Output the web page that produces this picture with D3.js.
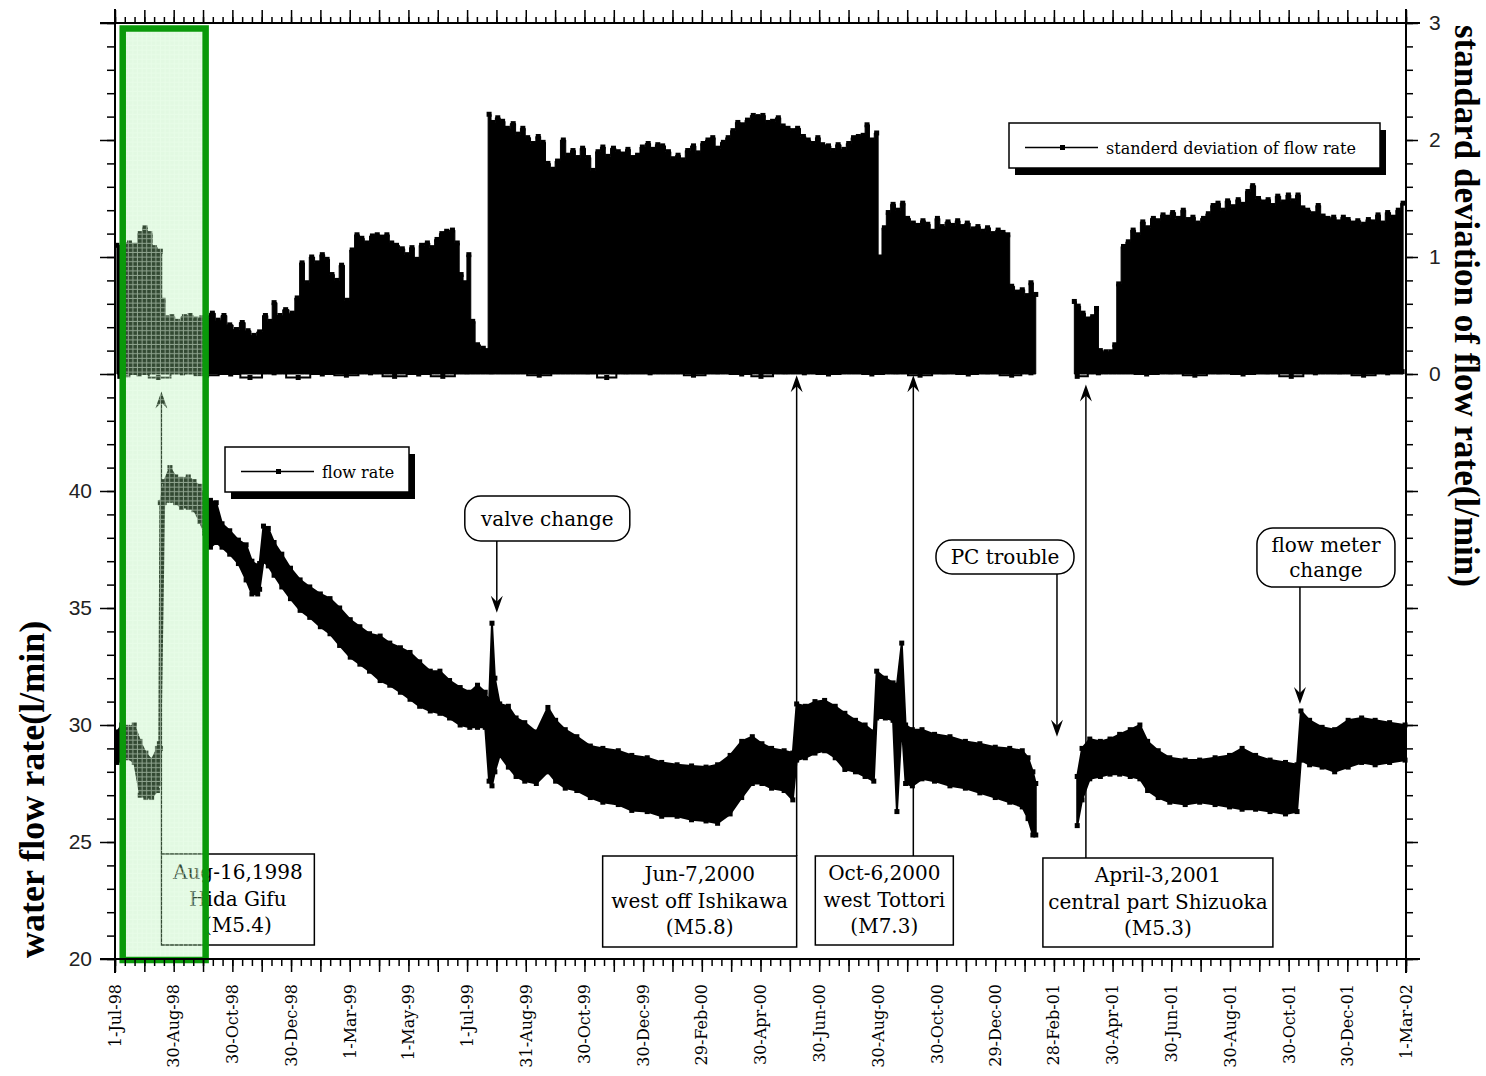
<!DOCTYPE html>
<html>
<head>
<meta charset="utf-8">
<script src="https://cdn.jsdelivr.net/npm/d3@7"></script>
<style>
  body { margin: 0; background: #fff; }
  svg { display: block; }
</style>
</head>
<body>
<svg id="chart" width="1486" height="1076"></svg>
<script>
// ---- observation window -------------------------------------------------
const startDate = new Date(1998, 6, 1);   // 1-Jul-98
const endDate = new Date(2002, 2, 1);     // 1-Mar-02

// ---- flow rate (l/min): daily band low / high, days counted from 1-Jul-98
const flowDay = [
  2, 7, 13, 20, 26, 32, 38, 44, 46, 47,
  51, 57, 63, 69, 76, 82, 88, 93, 99, 105,
  111, 119, 128, 136, 142, 148, 150, 154, 159, 165,
  173, 182, 192, 202, 213, 223, 233, 244, 254, 264,
  275, 285, 296, 306, 316, 327, 337, 347, 358, 368,
  376, 384, 388, 391, 394, 399, 408, 416, 425, 437,
  449, 457, 467, 479, 493, 506, 522, 536, 552, 567,
  583, 598, 613, 625, 638, 650, 661, 671, 681, 694,
  703, 707, 716, 726, 736, 747, 757, 768, 778, 787,
  790, 799, 807, 811, 816, 820, 827, 837, 850, 866,
  882, 897, 913, 928, 941, 947, 952, 955, 975, 998,
  1003, 1011, 1022, 1032, 1042, 1053, 1063, 1071, 1082, 1094,
  1110, 1125, 1141, 1156, 1169, 1183, 1198, 1214, 1226, 1230,
  1239, 1252, 1265, 1279, 1293, 1307, 1322, 1338
];
const flowLow = [
  28.4, 28.5, 28.6, 28.4, 27.0, 26.9, 26.9, 27.2, 27.5, 29.0,
  39.5, 39.6, 39.5, 39.3, 39.3, 39.2, 38.7, 38.2, 37.6, 37.8,
  37.6, 37.3, 36.9, 36.2, 35.6, 35.6, 35.8, 37.0, 36.8, 36.4,
  35.9, 35.4, 34.9, 34.6, 34.2, 33.9, 33.4, 32.9, 32.6, 32.3,
  31.9, 31.7, 31.4, 31.1, 30.8, 30.6, 30.5, 30.3, 30.0, 29.9,
  29.9, 29.9, 27.6, 27.4, 28.0, 28.7, 28.2, 27.8, 27.6, 27.5,
  28.0, 27.6, 27.3, 27.2, 26.9, 26.7, 26.6, 26.35, 26.3, 26.1,
  26.1, 25.95, 25.9, 25.8, 26.2, 26.9, 27.5, 27.5, 27.3, 27.2,
  26.8, 28.5, 28.6, 28.8, 28.9, 28.6, 28.1, 28.0, 27.8, 27.6,
  30.3, 30.3, 30.2, 26.3, 30.0, 27.5, 27.4, 27.7, 27.6, 27.4,
  27.3, 27.1, 26.9, 26.7, 26.5, 26.0, 25.3, 25.3, null, 25.7,
  26.8, 27.7, 27.8, 27.9, 27.9, 27.8, 27.7, 27.2, 26.9, 26.7,
  26.6, 26.7, 26.6, 26.5, 26.4, 26.4, 26.3, 26.2, 26.3, 28.5,
  28.3, 28.2, 28.0, 28.2, 28.4, 28.3, 28.4, 28.5
];
const flowHigh = [
  29.7, 30.0, 29.9, 30.0, 29.3, 28.8, 28.5, 29.0, 29.2, 39.5,
  40.4, 41.0, 40.6, 40.5, 40.6, 40.4, 40.2, 39.7, 39.6, 39.5,
  38.6, 38.3, 37.9, 37.7, 37.0, 36.8, 36.9, 38.5, 38.4, 37.8,
  37.3, 36.7, 36.2, 35.9, 35.6, 35.4, 35.0, 34.5, 34.2, 33.9,
  33.8, 33.5, 33.3, 33.1, 32.7, 32.3, 32.3, 31.9, 31.6, 31.4,
  31.7, 31.4, 31.0, 34.35, 32.0, 30.9, 30.8, 30.3, 30.1, 29.7,
  30.75, 30.2, 29.8, 29.5, 29.1, 29.0, 28.9, 28.7, 28.6, 28.4,
  28.3, 28.25, 28.2, 28.3, 28.7, 29.3, 29.5, 29.2, 29.0, 28.9,
  28.8, 30.9, 30.8, 31.0, 31.05, 30.8, 30.5, 30.2, 30.0, 29.7,
  32.3, 32.0, 31.8, 31.7, 33.5, 30.0, 29.8, 29.8, 29.6, 29.5,
  29.3, 29.2, 29.05, 29.0, 28.9, 28.6, 28.0, 27.5, null, 27.8,
  29.0, 29.4, 29.3, 29.4, 29.6, 29.8, 30.0, 29.3, 28.9, 28.6,
  28.5, 28.5, 28.6, 28.7, 29.0, 28.7, 28.5, 28.4, 28.3, 30.6,
  30.2, 29.9, 29.8, 30.2, 30.3, 30.2, 30.1, 30.0
];

// ---- standard deviation of flow rate (l/min): daily maxima ----------------
const stdDay = [
  2, 8, 15, 21, 26, 31, 36, 41, 47, 50,
  54, 59, 65, 72, 78, 84, 90, 95, 101, 107,
  113, 119, 126, 132, 138, 144, 150, 156, 161, 165,
  171, 177, 184, 189, 194, 199, 204, 210, 215, 220,
  225, 230, 235, 241, 246, 251, 256, 261, 267, 272,
  277, 282, 287, 292, 298, 303, 308, 313, 318, 324,
  329, 334, 339, 344, 350, 355, 359, 363, 367, 371,
  376, 382, 386, 388, 392, 397, 402, 407, 413, 418,
  423, 428, 434, 439, 444, 449, 454, 459, 465, 470,
  475, 480, 485, 491, 496, 501, 506, 511, 517, 522,
  527, 532, 537, 542, 547, 553, 558, 563, 568, 574,
  579, 584, 589, 594, 600, 605, 610, 615, 620, 625,
  631, 636, 641, 646, 651, 656, 662, 667, 672, 677,
  682, 688, 693, 698, 703, 708, 714, 719, 724, 729,
  734, 740, 745, 750, 756, 761, 766, 771, 776, 780,
  785, 790, 793, 798, 802, 807, 812, 817, 822, 828,
  833, 838, 843, 848, 853, 858, 864, 869, 874, 879,
  884, 890, 895, 900, 905, 911, 916, 921, 926, 930,
  936, 941, 946, 950, 955, 975, 995, 999, 1004, 1009,
  1014, 1018, 1022, 1028, 1033, 1037, 1041, 1046, 1051, 1056,
  1061, 1066, 1071, 1077, 1082, 1087, 1092, 1097, 1103, 1108,
  1113, 1118, 1123, 1129, 1134, 1139, 1144, 1149, 1154, 1160,
  1165, 1170, 1175, 1180, 1186, 1191, 1196, 1201, 1206, 1212,
  1217, 1222, 1227, 1232, 1237, 1243, 1248, 1253, 1258, 1264,
  1269, 1274, 1279, 1284, 1289, 1295, 1300, 1305, 1310, 1315,
  1320, 1326, 1331, 1336
];
const stdHigh = [
  1.10, 1.10, 1.12, 1.10, 1.20, 1.25, 1.20, 1.08, 1.05, 0.63,
  0.48, 0.49, 0.45, 0.49, 0.50, 0.47, 0.48, 0.48, 0.52, 0.46,
  0.50, 0.42, 0.38, 0.44, 0.37, 0.33, 0.36, 0.50, 0.45, 0.61,
  0.50, 0.55, 0.52, 0.65, 0.95, 0.78, 1.00, 0.95, 1.02, 0.98,
  0.85, 0.80, 0.93, 0.63, 1.06, 1.19, 1.16, 1.12, 1.18, 1.19,
  1.17, 1.19, 1.12, 1.10, 1.07, 1.02, 1.08, 0.98, 1.10, 1.12,
  1.08, 1.15, 1.20, 1.22, 1.23, 1.12, 0.85, 0.78, 1.02, 0.45,
  0.25, 0.22, 0.20, 2.22, 2.15, 2.19, 2.16, 2.10, 2.14, 2.05,
  2.10, 2.02, 1.97, 2.03, 1.98, 1.80, 1.75, 1.82, 2.00, 1.87,
  1.91, 1.85, 1.93, 1.85, 1.74, 1.90, 1.94, 1.86, 1.93, 1.90,
  1.88, 1.92, 1.85, 1.87, 1.94, 1.97, 1.92, 1.96, 1.95, 1.90,
  1.84, 1.87, 1.83, 1.91, 1.95, 1.89, 1.97, 2.00, 2.02, 1.93,
  1.98, 2.02, 2.08, 2.15, 2.13, 2.17, 2.21, 2.20, 2.21, 2.15,
  2.16, 2.19, 2.12, 2.10, 2.08, 2.10, 2.03, 2.00, 1.97, 2.02,
  1.96, 1.95, 1.91, 1.96, 1.92, 1.97, 2.02, 2.03, 2.04, 2.13,
  2.00, 2.06, 1.00, 1.25, 1.38, 1.45, 1.40, 1.46, 1.33, 1.29,
  1.27, 1.31, 1.28, 1.22, 1.33, 1.26, 1.30, 1.27, 1.31, 1.26,
  1.29, 1.24, 1.26, 1.22, 1.25, 1.20, 1.23, 1.21, 1.19, 0.75,
  0.70, 0.72, 0.67, 0.78, 0.68, null, 0.62, 0.58, 0.52, 0.47,
  0.49, 0.56, 0.20, 0.19, 0.19, 0.25, 0.77, 1.09, 1.13, 1.23,
  1.19, 1.30, 1.25, 1.33, 1.31, 1.36, 1.34, 1.38, 1.33, 1.40,
  1.32, 1.34, 1.29, 1.33, 1.37, 1.44, 1.46, 1.40, 1.48, 1.43,
  1.49, 1.45, 1.56, 1.61, 1.50, 1.47, 1.49, 1.44, 1.52, 1.47,
  1.53, 1.48, 1.53, 1.42, 1.40, 1.37, 1.44, 1.35, 1.33, 1.34,
  1.30, 1.34, 1.32, 1.29, 1.31, 1.28, 1.32, 1.30, 1.36, 1.29,
  1.38, 1.34, 1.40, 1.46
];
// daily minima of the standard deviation (sampled where the trace dips)
const stdLowDay = [
  5, 25, 45, 70, 95, 120, 140, 165, 190, 215,
  240, 265, 290, 315, 340, 365, 390, 415, 440, 465,
  490, 510, 530, 555, 580, 600, 625, 650, 670, 695,
  715, 740, 765, 785, 810, 835, 860, 885, 905, 930,
  950, 975, 998, 1020, 1045, 1070, 1095, 1120, 1145, 1170,
  1195, 1220, 1245, 1270, 1295, 1320, 1335
];
const stdLow = [
  -0.02, 0.00, -0.03, 0.01, -0.01, 0.00, -0.03, 0.01, -0.03, 0.00,
  -0.01, 0.01, -0.02, 0.00, -0.02, 0.02, 0.02, 0.03, -0.01, 0.03,
  0.02, -0.03, 0.02, 0.01, 0.03, -0.01, 0.02, 0.00, -0.02, 0.02,
  0.01, 0.00, 0.03, 0.00, 0.02, -0.01, 0.02, 0.00, 0.02, -0.01,
  0.01, null, -0.02, 0.01, 0.03, 0.00, 0.02, -0.01, 0.02, 0.00,
  0.02, -0.02, 0.01, 0.02, -0.01, 0.01, 0.02
];

// ---- axis labelling ------------------------------------------------------
const dateTickLabels = [
  "1-Jul-98", "30-Aug-98", "30-Oct-98", "30-Dec-98", "1-Mar-99", "1-May-99",
  "1-Jul-99", "31-Aug-99", "30-Oct-99", "30-Dec-99", "29-Feb-00", "30-Apr-00",
  "30-Jun-00", "30-Aug-00", "30-Oct-00", "29-Dec-00", "28-Feb-01", "30-Apr-01",
  "30-Jun-01", "30-Aug-01", "30-Oct-01", "30-Dec-01", "1-Mar-02"
];
const dateTickDates = [
  "1998-07-01", "1998-08-30", "1998-10-30", "1998-12-30", "1999-03-01", "1999-05-01",
  "1999-07-01", "1999-08-31", "1999-10-30", "1999-12-30", "2000-02-29", "2000-04-30",
  "2000-06-30", "2000-08-30", "2000-10-30", "2000-12-29", "2001-02-28", "2001-04-30",
  "2001-06-30", "2001-08-30", "2001-10-30", "2001-12-30", "2002-03-01"
];
const flowTickLabels = [20, 25, 30, 35, 40];
const stdTickLabels = [0, 1, 2, 3];

// ---- annotations ---------------------------------------------------------
const quakeDates = ["1998-08-16", "2000-06-07", "2000-10-06", "2001-04-03"];
const quakeText = [
  ["Aug-16,1998", "Hida Gifu", "(M5.4)"],
  ["Jun-7,2000", "west off Ishikawa", "(M5.8)"],
  ["Oct-6,2000", "west Tottori", "(M7.3)"],
  ["April-3,2001", "central part Shizuoka", "(M5.3)"]
];
const quakeArrowTip = [-0.15, -0.01, -0.01, -0.09];      // on the std scale
const noteDates = ["1999-08-01", "2001-03-04", "2001-11-11"];
const noteText = [["valve change"], ["PC trouble"], ["flow meter", "change"]];
const noteArrowTip = [34.8, 29.5, 30.9];                 // on the flow scale
const highlightRange = ["1998-07-09", "1998-10-03"];

// ---- layout --------------------------------------------------------------
const plot = { left: 115, right: 1406, top: 23, bottom: 959 };
const serif = "'DejaVu Serif', serif";
const titleFont = "'Liberation Serif', 'Times New Roman', serif";
const svg = d3.select("#chart");
const parse = d3.timeParse("%Y-%m-%d");
const onDay = d => d3.timeDay.offset(startDate, d);

const x = d3.scaleTime().domain([startDate, endDate]).range([plot.left, plot.right]);
const yFlow = d3.scaleLinear().domain([20, 60]).range([plot.bottom, plot.top]);
const yStd = d3.scaleLinear().domain([-5, 3]).range([plot.bottom, plot.top]);

const flowData = flowDay.map((d, i) => ({ date: onDay(d), lo: flowLow[i], hi: flowHigh[i] }));
const stdData = stdDay.map((d, i) => ({ date: onDay(d), hi: stdHigh[i] }));
const stdLowData = stdLowDay.map((d, i) => ({ date: onDay(d), v: stdLow[i] }));

const defs = svg.append("defs");
const pat = defs.append("pattern").attr("id", "mint")
  .attr("width", 4.6).attr("height", 4.6).attr("patternUnits", "userSpaceOnUse");
pat.append("rect").attr("width", 4.6).attr("height", 4.6)
  .attr("fill", "rgb(160,235,160)").attr("fill-opacity", 0.31);
pat.append("rect").attr("x", 3.6).attr("width", 1).attr("height", 4.6)
  .attr("fill", "rgb(235,255,235)").attr("fill-opacity", 0.5);
pat.append("rect").attr("y", 3.6).attr("width", 3.6).attr("height", 1)
  .attr("fill", "rgb(235,255,235)").attr("fill-opacity", 0.5);

// ---- data traces ---------------------------------------------------------
const marks = svg.append("g");
const sq = 5;

// standard deviation: filled from zero up to the daily maxima
marks.append("path").datum(stdData)
  .attr("d", d3.area().defined(d => d.hi != null)
    .x(d => x(d.date)).y0(yStd(0)).y1(d => yStd(d.hi)).curve(d3.curveStep))
  .attr("fill", "#000").attr("stroke", "#000").attr("stroke-width", 1);
marks.append("g").selectAll("rect").data(stdData.filter(d => d.hi != null)).join("rect")
  .attr("x", d => x(d.date) - sq / 2).attr("y", d => yStd(d.hi) - sq / 2)
  .attr("width", sq).attr("height", sq).attr("fill", "#000");
marks.append("path").datum(stdLowData)
  .attr("d", d3.line().defined(d => d.v != null).x(d => x(d.date)).y(d => yStd(d.v)).curve(d3.curveStep))
  .attr("fill", "none").attr("stroke", "#000").attr("stroke-width", 2);
marks.append("g").selectAll("rect").data(stdLowData.filter(d => d.v != null)).join("rect")
  .attr("x", d => x(d.date) - sq / 2).attr("y", d => yStd(d.v) - sq / 2)
  .attr("width", sq).attr("height", sq).attr("fill", "#000");

// flow rate band
marks.append("path").datum(flowData)
  .attr("d", d3.area().defined(d => d.lo != null)
    .x(d => x(d.date)).y0(d => yFlow(d.lo)).y1(d => yFlow(d.hi)))
  .attr("fill", "#000").attr("stroke", "#000").attr("stroke-width", 2);
const flowPts = flowData.filter(d => d.lo != null);
marks.append("g").selectAll("rect").data(flowPts.flatMap(d => [
    { date: d.date, v: d.lo }, { date: d.date, v: d.hi }])).join("rect")
  .attr("x", d => x(d.date) - sq / 2).attr("y", d => yFlow(d.v) - sq / 2)
  .attr("width", sq).attr("height", sq).attr("fill", "#000");

// ---- arrowheads ----------------------------------------------------------
function arrowHead(g, ax, ay, up) {
  const s = up ? 1 : -1;
  g.append("path")
    .attr("d", `M${ax},${ay} L${ax - 6},${ay + s * 17} L${ax},${ay + s * 11} L${ax + 6},${ay + s * 17} Z`)
    .attr("fill", "#000");
}

// ---- earthquake boxes ----------------------------------------------------
const quakeBox = [
  { dx: 2, w: 153, top: 854, h: 91 },
  { dx: -194, w: 194, top: 856, h: 91 },
  { dx: -98, w: 138, top: 856, h: 89 },
  { dx: -43, w: 230, top: 858, h: 89 }
];
const ann = svg.append("g");
quakeDates.forEach((ds, i) => {
  const lx = x(parse(ds)) + (i === 0 ? 2 : 0);
  const b = quakeBox[i];
  const bx = x(parse(ds)) + b.dx;
  const tipY = yStd(quakeArrowTip[i]);
  ann.append("line").attr("x1", lx).attr("x2", lx).attr("y1", b.top).attr("y2", tipY + 4)
    .attr("stroke", "#000").attr("stroke-width", 1.5);
  arrowHead(ann, lx, tipY, true);
  ann.append("rect").attr("x", bx).attr("y", b.top).attr("width", b.w).attr("height", b.h)
    .attr("fill", "#fff").attr("stroke", "#000").attr("stroke-width", 1.5);
  const cx = bx + b.w / 2, cy = b.top + b.h / 2;
  quakeText[i].forEach((t, j) => {
    ann.append("text").attr("x", cx).attr("y", cy + (j - 1) * 26.5 + 6)
      .attr("text-anchor", "middle").attr("font-family", serif).attr("font-size", 20)
      .text(t);
  });
});

// ---- rounded callouts ----------------------------------------------------
const noteBox = [
  { dx: -32, w: 165, top: 496, h: 45 },
  { dx: -121, w: 138, top: 540, h: 34 },
  { dx: -43, w: 138, top: 528, h: 59 }
];
noteDates.forEach((ds, i) => {
  const ax = x(parse(ds));
  const b = noteBox[i];
  const bx = ax + b.dx;
  const tipY = yFlow(noteArrowTip[i]);
  ann.append("line").attr("x1", ax).attr("x2", ax).attr("y1", b.top + b.h).attr("y2", tipY - 4)
    .attr("stroke", "#000").attr("stroke-width", 1.5);
  arrowHead(ann, ax, tipY, false);
  ann.append("rect").attr("x", bx).attr("y", b.top).attr("width", b.w).attr("height", b.h)
    .attr("rx", 16).attr("ry", 16)
    .attr("fill", "#fff").attr("stroke", "#000").attr("stroke-width", 1.5);
  const cx = bx + b.w / 2, cy = b.top + b.h / 2;
  const n = noteText[i].length;
  noteText[i].forEach((t, j) => {
    ann.append("text").attr("x", cx).attr("y", cy + (j - (n - 1) / 2) * 25 + 7)
      .attr("text-anchor", "middle").attr("font-family", serif).attr("font-size", 20)
      .text(t);
  });
});

// ---- legends -------------------------------------------------------------
function legendBox(x0, y0, w, h, label) {
  const g = svg.append("g");
  g.append("rect").attr("x", x0 + 6).attr("y", y0 + 7).attr("width", w).attr("height", h).attr("fill", "#000");
  g.append("rect").attr("x", x0).attr("y", y0).attr("width", w).attr("height", h)
    .attr("fill", "#fff").attr("stroke", "#000").attr("stroke-width", 1.5);
  const ly = y0 + h / 2 + 2;
  g.append("line").attr("x1", x0 + 16).attr("x2", x0 + 89).attr("y1", ly).attr("y2", ly)
    .attr("stroke", "#000").attr("stroke-width", 1.5);
  g.append("rect").attr("x", x0 + 51).attr("y", ly - 2.5).attr("width", 5).attr("height", 5).attr("fill", "#000");
  g.append("text").attr("x", x0 + 97).attr("y", ly + 6).attr("font-family", serif)
    .attr("font-size", 16).text(label);
}
legendBox(1009, 123, 371, 45, "standerd deviation of flow rate");
legendBox(225, 447, 184, 45, "flow rate");

// ---- highlighted interval ------------------------------------------------
const hx0 = x(parse(highlightRange[0])), hx1 = x(parse(highlightRange[1]));
svg.append("rect").attr("x", hx0).attr("y", plot.top + 5.5)
  .attr("width", hx1 - hx0).attr("height", plot.bottom + 1 - plot.top - 5.5)
  .attr("fill", "url(#mint)");
svg.append("rect").attr("x", hx0).attr("y", plot.top + 5.5)
  .attr("width", hx1 - hx0).attr("height", plot.bottom + 1 - plot.top - 5.5)
  .attr("fill", "none").attr("stroke", "#0a990a").attr("stroke-width", 6.5);

// ---- axes ----------------------------------------------------------------
const span = endDate - startDate;
const subTicks = d3.range(133).map(k => new Date(+startDate + span * k / 132));
const halfTicks = subTicks.filter((d, k) => k % 3 === 0);

function ticks(axis, tx, ty) {
  svg.append("g").attr("transform", `translate(${tx},${ty})`).call(axis)
    .call(g => g.select(".domain").remove())
    .call(g => g.selectAll(".tick line").attr("stroke", "#000").attr("stroke-width", 1.5))
    .call(g => g.selectAll(".tick text").remove());
}
ticks(d3.axisBottom(x).tickValues(subTicks).tickSize(7), 0, plot.bottom);
ticks(d3.axisBottom(x).tickValues(halfTicks).tickSize(13), 0, plot.bottom);
ticks(d3.axisTop(x).tickValues(subTicks).tickSize(6), 0, plot.top);
ticks(d3.axisTop(x).tickValues(halfTicks).tickSize(13), 0, plot.top);
ticks(d3.axisLeft(yFlow).tickValues(d3.range(20, 61)).tickSize(8), plot.left, 0);
ticks(d3.axisLeft(yFlow).tickValues(d3.range(20, 61, 5)).tickSize(15), plot.left, 0);
ticks(d3.axisRight(yStd).tickValues(d3.range(-25, 16).map(k => k / 5)).tickSize(7), plot.right, 0);
ticks(d3.axisRight(yStd).tickValues(d3.range(-5, 4)).tickSize(12), plot.right, 0);

// frame lines, running past the corners by the long tick length
const frame = svg.append("g").attr("stroke", "#000").attr("stroke-width", 2);
frame.append("line").attr("x1", plot.left - 15).attr("x2", plot.right + 14).attr("y1", plot.top).attr("y2", plot.top);
frame.append("line").attr("x1", plot.left - 15).attr("x2", plot.right + 14).attr("y1", plot.bottom).attr("y2", plot.bottom);
frame.append("line").attr("x1", plot.left).attr("x2", plot.left).attr("y1", plot.top - 14).attr("y2", plot.bottom + 14);
frame.append("line").attr("x1", plot.right).attr("x2", plot.right).attr("y1", plot.top - 14).attr("y2", plot.bottom + 14);

// date labels, written upward below the bottom axis
svg.append("g").attr("transform", `translate(0,${plot.bottom})`)
  .call(d3.axisBottom(x).tickValues(dateTickDates.map(parse)).tickSize(0)
    .tickFormat((d, i) => dateTickLabels[i]))
  .call(g => g.select(".domain").remove())
  .attr("font-family", serif).attr("font-size", 16)
  .selectAll(".tick text")
  .attr("fill", "#000")
  .attr("transform", "rotate(-90)")
  .attr("text-anchor", "end")
  .attr("x", -25).attr("y", 0).attr("dy", "0.36em");

// numeric labels on both value axes
svg.append("g").attr("transform", `translate(${plot.left},0)`)
  .call(d3.axisLeft(yFlow).tickValues(flowTickLabels).tickSize(0).tickPadding(23))
  .call(g => g.select(".domain").remove())
  .attr("font-family", "'Liberation Sans', Arial, sans-serif").attr("font-size", 21)
  .selectAll("text").attr("fill", "#222");
svg.append("g").attr("transform", `translate(${plot.right},0)`)
  .call(d3.axisRight(yStd).tickValues(stdTickLabels).tickSize(0).tickPadding(23))
  .call(g => g.select(".domain").remove())
  .attr("font-family", "'Liberation Sans', Arial, sans-serif").attr("font-size", 21)
  .selectAll("text").attr("fill", "#222");

// axis titles
svg.append("text").attr("transform", `translate(44,${plot.bottom - 1}) rotate(-90)`)
  .attr("font-family", titleFont).attr("font-size", 36).attr("font-weight", "bold")
  .attr("text-anchor", "start").text("water flow rate(l/min)");
svg.append("text").attr("transform", `translate(1455,${plot.top + 2}) rotate(90)`)
  .attr("font-family", titleFont).attr("font-size", 35).attr("font-weight", "bold")
  .attr("text-anchor", "start").text("standard deviation of flow rate(l/min)");
</script>
</body>
</html>
